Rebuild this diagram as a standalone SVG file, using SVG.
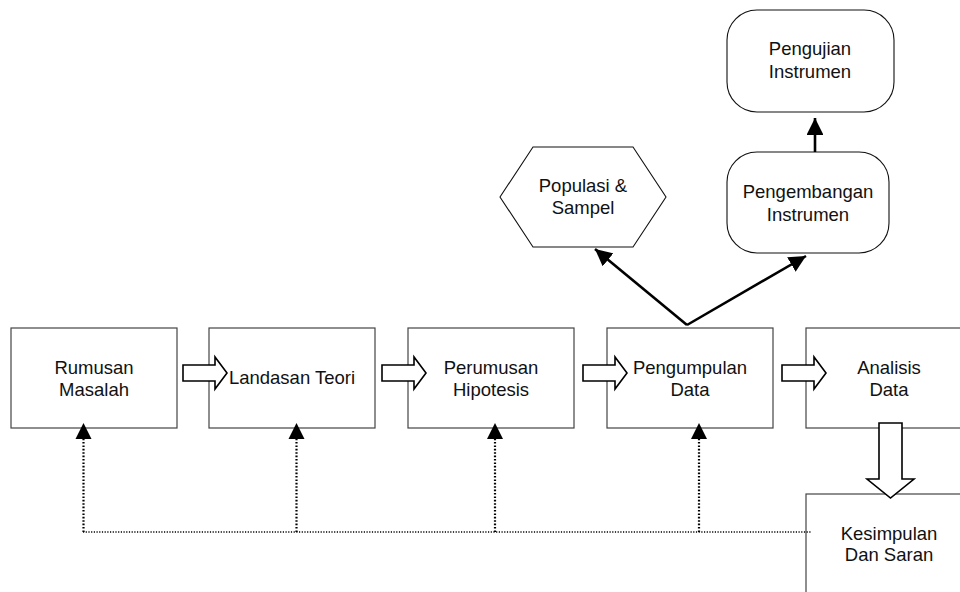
<svg xmlns="http://www.w3.org/2000/svg" width="960" height="592" viewBox="0 0 960 592">
<style>
.box{fill:#fff;stroke:#444;stroke-width:1.2}
.rbox{fill:#fff;stroke:#111;stroke-width:1.1}
.t{font-family:"Liberation Sans",Arial,sans-serif;font-size:18.5px;fill:#111;text-anchor:middle}
.blk{fill:#fff;stroke:#000;stroke-width:1.6;stroke-linejoin:miter}
.solid{fill:none;stroke:#000;stroke-width:2.6}
.dotv{fill:none;stroke:#000;stroke-width:2.2;stroke-dasharray:1.6 1.8}
.doth{fill:none;stroke:#000;stroke-width:1.5;stroke-dasharray:1.2 1.5}
</style>
<defs>
<marker id="ah" viewBox="0 0 10 10" refX="10" refY="5" markerWidth="6.5" markerHeight="6.5" markerUnits="strokeWidth" orient="auto">
<path d="M0,0 L10,5 L0,10 Z" fill="#000"/>
</marker>
</defs>
<rect width="960" height="592" fill="#fff"/>

<g id="node-rumusan">
<rect class="box" x="11" y="328" width="166" height="100"/>
<text class="t" x="94" y="374">Rumusan</text>
<text class="t" x="94" y="396">Masalah</text>
</g>
<g id="node-landasan">
<rect class="box" x="209" y="328" width="166" height="100"/>
<text class="t" x="292" y="384">Landasan Teori</text>
</g>
<g id="node-perumusan">
<rect class="box" x="408" y="328" width="166" height="100"/>
<text class="t" x="491" y="374">Perumusan</text>
<text class="t" x="491" y="396">Hipotesis</text>
</g>
<g id="node-pengumpulan">
<rect class="box" x="607" y="328" width="166" height="100"/>
<text class="t" x="690" y="374">Pengumpulan</text>
<text class="t" x="690" y="396">Data</text>
</g>
<g id="node-analisis">
<rect class="box" x="806" y="328" width="166" height="100"/>
<text class="t" x="889" y="374">Analisis</text>
<text class="t" x="889" y="396">Data</text>
</g>
<g id="node-kesimpulan">
<rect class="box" x="806" y="494" width="166" height="110"/>
<text class="t" x="889" y="540">Kesimpulan</text>
<text class="t" x="889" y="561">Dan Saran</text>
</g>
<g id="node-populasi">
<polygon class="rbox" points="500,197 533,147 633,147 666,197 633,247 533,247"/>
<text class="t" x="583" y="192">Populasi &amp;</text>
<text class="t" x="583" y="214">Sampel</text>
</g>
<g id="node-pengembangan">
<rect class="rbox" x="727" y="152" width="162" height="101" rx="30" ry="30"/>
<text class="t" x="808" y="198">Pengembangan</text>
<text class="t" x="808" y="221">Instrumen</text>
</g>
<g id="node-pengujian">
<rect class="rbox" x="727" y="10" width="167" height="102" rx="30" ry="30"/>
<text class="t" x="810" y="55">Pengujian</text>
<text class="t" x="810" y="78">Instrumen</text>
</g>

<g id="connectors">
<polygon class="blk" points="183,365 215,365 215,357 227,373 215,389 215,381 183,381"/>
<polygon class="blk" points="382,365 414,365 414,357 426,373 414,389 414,381 382,381"/>
<polygon class="blk" points="583,365 615,365 615,357 627,373 615,389 615,381 583,381"/>
<polygon class="blk" points="782,365 814,365 814,357 826,373 814,389 814,381 782,381"/>
<polygon class="blk" points="879,423 902,423 902,479 914,479 890.5,498 867,479 879,479"/>

<line class="solid" x1="687" y1="325" x2="595" y2="249" marker-end="url(#ah)"/>
<line class="solid" x1="687" y1="325" x2="806" y2="256" marker-end="url(#ah)"/>
<line class="solid" x1="815" y1="152" x2="815" y2="118" marker-end="url(#ah)"/>

<polyline class="doth" points="83,532 812,532"/>
<line class="dotv" x1="83.5" y1="532" x2="83.5" y2="438"/>
<line class="dotv" x1="296.5" y1="532" x2="296.5" y2="438"/>
<line class="dotv" x1="495" y1="532" x2="495" y2="438"/>
<line class="dotv" x1="699" y1="532" x2="699" y2="438"/>
<polygon points="83.5,423 91.5,439 75.5,439" fill="#000"/>
<polygon points="296.5,423 304.5,439 288.5,439" fill="#000"/>
<polygon points="495,423 503,439 487,439" fill="#000"/>
<polygon points="699,423 707,439 691,439" fill="#000"/>
</g>
</svg>
